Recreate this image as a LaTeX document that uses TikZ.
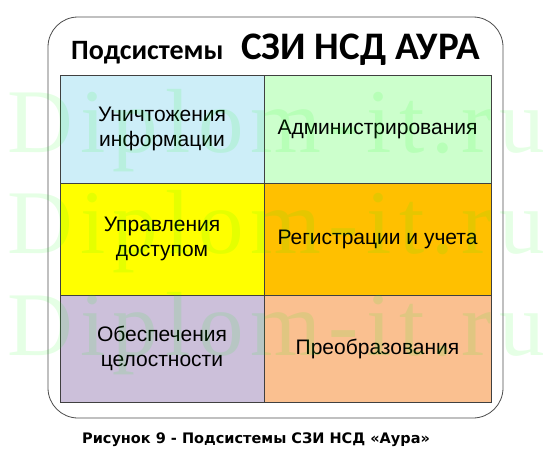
\documentclass[tikz,border=0pt]{standalone}
\usepackage{fontspec}
\setmainfont{Liberation Sans}
\newfontfamily\headfont{Carlito}
\newfontfamily\capfont{DejaVu Sans}
\newfontfamily\markfont[LetterSpace=8]{Liberation Serif}
\usetikzlibrary{positioning}
\definecolor{cellblue}{HTML}{CDEEF8}
\definecolor{cellgreen}{HTML}{CCFFCC}
\definecolor{cellyellow}{HTML}{FFFF00}
\definecolor{cellorange}{HTML}{FFC000}
\definecolor{celllilac}{HTML}{CCC0DA}
\definecolor{cellpeach}{HTML}{FAC090}
\definecolor{markgreen}{RGB}{0,255,0}
\tikzset{
  cell/.style={draw=black!75, line width=0.7pt, inner sep=0pt, align=center,
    font=\fontsize{21}{25}\selectfont},
  mark text/.style={anchor=base west, inner sep=0pt, text=markgreen, opacity=0.1,
    font=\markfont\fontsize{91}{91}\selectfont}
}

\begin{document}
\begin{tikzpicture}[x=1pt,y=-1pt]
  \useasboundingbox (0,0) rectangle (552,460);
  \draw[black!70, line width=0.8pt, rounded corners=30] (48,17) rectangle (503,418);

  \node[anchor=base west, inner sep=0pt, font=\headfont\bfseries\fontsize{28}{32}\selectfont] (head) at (71,60) {Подсистемы};
  \node[anchor=base west, inner sep=0pt, font=\headfont\bfseries\fontsize{39}{44}\selectfont] (name) at (241,60) {СЗИ НСД АУРА};

  \begin{scope}
    \def\lw{204}
    \def\rw{227}
    \node[cell, fill=cellblue, minimum width=\lw, minimum height=108] (destr) at (162,129) {Уничтожения\\информации};
    \node[cell, fill=cellgreen, minimum width=\rw, minimum height=108] (admin) at (377.5,129) {Администрирования};
    \node[cell, fill=cellyellow, minimum width=\lw, minimum height=112] (access) at (162,239) {Управления\\доступом};
    \node[cell, fill=cellorange, minimum width=\rw, minimum height=112] (audit) at (377.5,239) {Регистрации и учета};
    \node[cell, fill=celllilac, minimum width=\lw, minimum height=107] (integr) at (162,348.5) {Обеспечения\\целостности};
    \node[cell, fill=cellpeach, minimum width=\rw, minimum height=107] (crypt) at (377.5,348.5) {Преобразования};
  \end{scope}

  \foreach \y [count=\i] in {152,253,355}
    \node[mark text] (mark\i) at (7,\y) {Diplom-it.ru};

  \node[anchor=base, inner sep=0pt, font=\capfont\bfseries\fontsize{14.5}{18}\selectfont] (caption) at (256,443) {Рисунок 9 - Подсистемы СЗИ НСД «Аура»};
\end{tikzpicture}
\end{document}
